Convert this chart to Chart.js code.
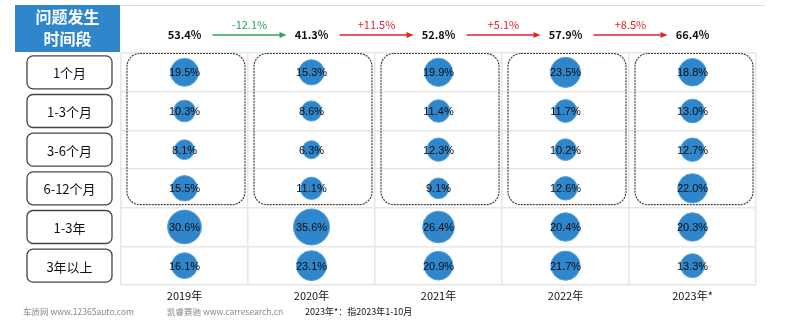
<!DOCTYPE html>
<html>
<head>
<meta charset="utf-8">
<script src="https://cdn.jsdelivr.net/npm/chart.js@4.4.0/dist/chart.umd.min.js"></script>
<style>
  html, body { margin: 0; padding: 0; background: #fff; }
  #wrap { width: 800px; height: 323px; }
</style>
</head>
<body>
<div id="wrap"><canvas id="chart" width="800" height="323"></canvas></div>
<script>
// Years (columns) and time-to-failure buckets (rows)
const years = ['2019年', '2020年', '2021年', '2022年', '2023年*'];
const periods = ['1个月', '1-3个月', '3-6个月', '6-12个月', '1-3年', '3年以上'];

// Share per bucket, one array per year (same order as periods)
const share2019 = [19.5, 10.3, 8.1, 15.5, 30.6, 16.1];
const share2020 = [15.3, 8.6, 6.3, 11.1, 35.6, 23.1];
const share2021 = [19.9, 11.4, 12.3, 9.1, 26.4, 20.9];
const share2022 = [23.5, 11.7, 10.2, 12.6, 20.4, 21.7];
const share2023 = [18.8, 13.0, 12.7, 22.0, 20.3, 13.3];

// Within-one-year totals and year-on-year change
const firstYearTotal = ['53.4%', '41.3%', '52.8%', '57.9%', '66.4%'];
const totalChange = ['-12.1%', '+11.5%', '+5.1%', '+8.5%'];

const footNotes = ['车质网 www.12365auto.com', '凯睿赛驰 www.carresearch.cn', '2023年*：指2023年1-10月'];

const shares = [share2019, share2020, share2021, share2022, share2023];
const BLUE = '#2f86cb';
const CJK = '"Noto Sans CJK SC", "Noto Sans", sans-serif';
const NARROW = '"Liberation Sans Narrow", "Liberation Sans", Arial, sans-serif';

const points = [];
shares.forEach((col, ci) => {
    col.forEach((v, ri) => {
        points.push({ x: ci + 0.5, y: ri + 0.5, r: 2.6 * Math.sqrt(v) + 2.5, v: v });
    });
});

function roundRect(ctx, x, y, w, h, r) {
    ctx.beginPath();
    ctx.moveTo(x + r, y);
    ctx.arcTo(x + w, y, x + w, y + h, r);
    ctx.arcTo(x + w, y + h, x, y + h, r);
    ctx.arcTo(x, y + h, x, y, r);
    ctx.arcTo(x, y, x + w, y, r);
    ctx.closePath();
}

function arrow(ctx, x1, x2, y, color) {
    ctx.strokeStyle = color;
    ctx.fillStyle = color;
    ctx.lineWidth = 1.3;
    ctx.beginPath();
    ctx.moveTo(x1, y);
    ctx.lineTo(x2 - 5, y);
    ctx.stroke();
    ctx.beginPath();
    ctx.moveTo(x2, y);
    ctx.lineTo(x2 - 7, y - 3);
    ctx.lineTo(x2 - 7, y + 3);
    ctx.closePath();
    ctx.fill();
}

// Frame, labels and dashed group boxes around the bubble grid
const tablePlugin = {
    id: 'tableDecor',
    beforeDatasetsDraw(chart) {
        const { ctx, scales: { x, y } } = chart;
        ctx.save();

        // dashed boxes around the first four rows (within one year)
        ctx.setLineDash([2, 1]);
        ctx.strokeStyle = '#444';
        ctx.lineWidth = 1.2;
        for (let c = 0; c < years.length; c++) {
            const l = x.getPixelForValue(c) + 6;
            const r = x.getPixelForValue(c + 1) - 3;
            const t = y.getPixelForValue(0) + 0.5;
            const b = y.getPixelForValue(4) - 3;
            roundRect(ctx, l, t, r - l, b - t, 13);
            ctx.stroke();
        }
        ctx.setLineDash([]);
        ctx.restore();
    },
    afterDraw(chart) {
        const { ctx, scales: { x, y } } = chart;
        ctx.save();

        // header cell
        ctx.fillStyle = '#2f86cb';
        ctx.fillRect(15, 5, 105, 47);
        ctx.fillStyle = '#fff';
        ctx.font = 'bold 16px ' + CJK;
        ctx.textAlign = 'center';
        ctx.textBaseline = 'middle';
        ctx.fillText('问题发生', 67.5, 17);
        ctx.fillText('时间段', 67.5, 39);

        // thin rule along the top
        ctx.strokeStyle = '#dddddd';
        ctx.lineWidth = 1;
        ctx.beginPath();
        ctx.moveTo(120, 5.5);
        ctx.lineTo(765, 5.5);
        ctx.stroke();

        // row label boxes
        ctx.font = '13px ' + CJK;
        periods.forEach((p, i) => {
            const cy = y.getPixelForValue(i + 0.5);
            ctx.strokeStyle = '#444';
            ctx.lineWidth = 1.3;
            roundRect(ctx, 27, cy - 16.5, 85, 33, 6);
            ctx.stroke();
            ctx.fillStyle = '#111';
            ctx.fillText(p, 69.5, cy + 1);
        });

        // totals and change arrows
        ctx.font = 'bold 11px ' + CJK;
        firstYearTotal.forEach((t, i) => {
            ctx.fillStyle = '#111';
            ctx.fillText(t, x.getPixelForValue(i + 0.5), 35);
        });
        totalChange.forEach((d, i) => {
            const color = d.startsWith('-') ? '#2ca25a' : '#e0262c';
            const x1 = x.getPixelForValue(i + 0.5) + 28;
            const x2 = x.getPixelForValue(i + 1.5) - 25;
            arrow(ctx, x1, x2, 35, color);
            ctx.font = '11px ' + CJK;
            ctx.fillStyle = color;
            ctx.fillText(d, (x1 + x2) / 2, 25);
        });

        // year labels
        ctx.font = '11px ' + CJK;
        ctx.fillStyle = '#111';
        years.forEach((yr, i) => {
            ctx.fillText(yr, x.getPixelForValue(i + 0.5), 296);
        });

        // sources and note
        ctx.font = '8.5px ' + CJK;
        ctx.textAlign = 'left';
        ctx.fillStyle = '#888';
        ctx.fillText(footNotes[0], 23, 312);
        ctx.fillText(footNotes[1], 167, 312);
        ctx.fillStyle = '#111';
        ctx.font = '9px ' + CJK;
        ctx.fillText(footNotes[2], 305, 312);

        // values on bubbles
        ctx.textAlign = 'center';
        ctx.font = '11px ' + NARROW;
        ctx.fillStyle = '#0d0d0d';
        points.forEach(p => {
            ctx.fillText(p.v.toFixed(1) + '%', x.getPixelForValue(p.x), y.getPixelForValue(p.y) + 1);
        });
        ctx.restore();
    }
};

new Chart(document.getElementById('chart'), {
    type: 'bubble',
    data: {
        datasets: [{
            data: points,
            backgroundColor: BLUE,
            borderColor: '#5aa2dc',
            borderWidth: 1
        }]
    },
    options: {
        responsive: false,
        animation: false,
        layout: { padding: { left: 121, right: 44, top: 53, bottom: 38 } },
        plugins: { legend: { display: false }, tooltip: { enabled: false } },
        scales: {
            x: {
                type: 'linear', min: 0, max: 5,
                ticks: { display: false, stepSize: 1 },
                grid: { color: '#e6e6e6', lineWidth: 1.5, drawTicks: false },
                border: { display: false }
            },
            y: {
                type: 'linear', min: 0, max: 6, reverse: true,
                ticks: { display: false, stepSize: 1 },
                grid: { color: '#e6e6e6', lineWidth: 1.5, drawTicks: false },
                border: { display: false }
            }
        }
    },
    plugins: [tablePlugin]
});
</script>
</body>
</html>
